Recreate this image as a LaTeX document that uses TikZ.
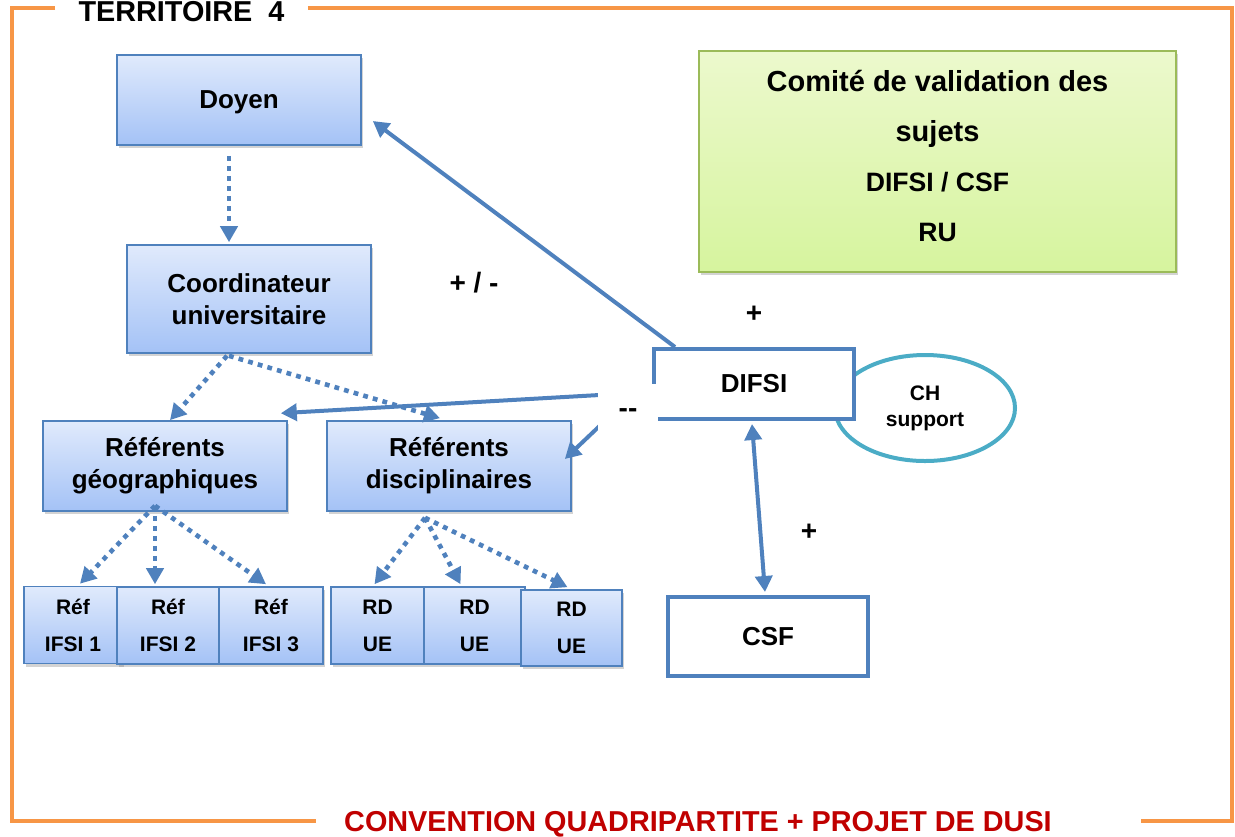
\documentclass[tikz,border=0pt]{standalone}
\usepackage{fontspec}
\setmainfont{Liberation Sans}
\usetikzlibrary{arrows.meta,shadows,shapes.geometric}

\definecolor{boxline}{RGB}{79,129,189}
\definecolor{boxtop}{RGB}{224,234,252}
\definecolor{boxbottom}{RGB}{164,194,246}
\definecolor{greenline}{RGB}{155,187,89}
\definecolor{greentop}{RGB}{236,249,205}
\definecolor{greenbottom}{RGB}{214,244,158}
\definecolor{chline}{RGB}{75,172,198}
\definecolor{frameorange}{RGB}{247,150,70}
\definecolor{convred}{RGB}{192,0,0}

\begin{document}
\begin{tikzpicture}[x=0.5pt, y=-0.5pt,
        every node/.style={align=center, font=\bfseries},
        blocbox/.style={rectangle, draw=boxline, line width=0.8pt, top color=boxtop, bottom color=boxbottom,
            drop shadow={shadow xshift=1.2pt, shadow yshift=-1.5pt, opacity=0.35},
            font=\bfseries\fontsize{13}{16}\selectfont, minimum width=122pt, minimum height=45pt},
        smallbox/.style={blocbox, font=\bfseries\fontsize{10.5}{18.5}\selectfont, minimum width=51pt, minimum height=38.5pt},
        whitebox/.style={rectangle, draw=boxline, line width=2pt, fill=white, font=\bfseries\fontsize{13}{16}\selectfont},
        solidarrow/.style={draw=boxline, line width=2pt, -{Triangle[length=8pt,width=8.5pt]}},
        dotarrow/.style={solidarrow, line width=2.3pt, dash pattern=on 2.4pt off 2.6pt},
        sign/.style={font=\bfseries\fontsize{14}{16}\selectfont},
        frame/.style={draw=frameorange, line width=2pt}
    ]
        \useasboundingbox (0,0) rectangle (1235,836);

        % cadre du territoire
        \node[font=\bfseries\fontsize{14.4}{16}\selectfont, inner xsep=11.5pt] (title) at (181.5,12) {TERRITOIRE~~4};
        \node[font=\bfseries\fontsize{14.4}{16}\selectfont, text=convred] (conv) at (698,824) {CONVENTION QUADRIPARTITE + PROJET DE DUSI};
        \draw[frame] ([yshift=2pt]title.west) -- (12,8) -- (12,821) -- (316,821);
        \draw[frame] ([yshift=2pt]title.east) -- (1232,8) -- (1232,821) -- (1141,821);

        % universite
        \node[blocbox, text depth=0pt] (doyen) at (239,100) {Doyen};
        \node[blocbox, minimum height=54pt] (coord) at (249,299) {Coordinateur\\universitaire};
        \node[blocbox] (geo) at (165,466) {Référents\\géographiques};
        \node[blocbox] (disc) at (449,466) {Référents\\disciplinaires};

        \node[smallbox, minimum width=49pt] (ifsi1) at (73,625) {Réf\\IFSI 1};
        \node[smallbox] (ifsi2) at (168,625.5) {Réf\\IFSI 2};
        \node[smallbox, minimum width=52pt] (ifsi3) at (271,625.5) {Réf\\IFSI 3};

        \node[smallbox, minimum width=46.5pt] (rd1) at (377.5,625.5) {RD\\UE};
        \node[smallbox, minimum width=50.5pt] (rd2) at (474.5,625.5) {RD\\UE};
        \node[smallbox, minimum width=50.5pt, minimum height=38pt] (rd3) at (571.5,628) {RD\\UE};

        % comite
        \node[rectangle, draw=greenline, line width=0.8pt, top color=greentop, bottom color=greenbottom,
            drop shadow={shadow xshift=1.2pt, shadow yshift=-1.5pt, opacity=0.35},
            minimum width=238.5pt, minimum height=110.5pt] (comite) at (937.5,161.5) {};
        \node[font=\bfseries\fontsize{14.5}{25}\selectfont] (comitetext) at (937.5,156)
            {Comité de validation des\\sujets\\{\fontsize{13.3}{25}\selectfont DIFSI / CSF}\\{\fontsize{13.3}{25}\selectfont RU}};

        % DIFSI et CSF
        \node[ellipse, draw=chline, line width=2pt, minimum width=90pt, minimum height=53pt,
            font=\bfseries\fontsize{10.5}{13}\selectfont] (ch) at (925,408) {CH\\support};
        \node[whitebox, minimum width=100pt, minimum height=35pt] (difsi) at (754,384) {DIFSI};
        \node[whitebox, minimum width=100pt, minimum height=39.5pt] (csf) at (768,636.5) {CSF};

        % liens hierarchiques
        \draw[dotarrow] ([xshift=-5pt,yshift=-5pt]doyen.south) -- ([xshift=-10pt,yshift=1pt]coord.north);
        \draw[dotarrow] ([xshift=-11pt,yshift=-1pt]coord.south) -- ([xshift=2.5pt]geo.north);
        \draw[dotarrow] ([xshift=-10pt,yshift=-1pt]coord.south) -- ([xshift=-4.5pt,yshift=1pt]disc.north);

        \draw[dotarrow] ([xshift=-5pt,yshift=3pt]geo.south) -- ([xshift=3.5pt,yshift=1pt]ifsi1.north);
        \draw[dotarrow] ([xshift=-5pt,yshift=3pt]geo.south) -- ([xshift=-6.5pt,yshift=1pt]ifsi2.north);
        \draw[dotarrow] ([xshift=-5pt,yshift=3pt]geo.south) -- ([xshift=-2.5pt,yshift=1pt]ifsi3.north);

        \draw[dotarrow] ([xshift=-12pt,yshift=-3pt]disc.south) -- ([xshift=-1.5pt,yshift=1pt]rd1.north);
        \draw[dotarrow] ([xshift=-12pt,yshift=-3pt]disc.south) -- ([xshift=-7pt,yshift=1pt]rd2.north);
        \draw[dotarrow] ([xshift=-12pt,yshift=-3pt]disc.south) -- ([xshift=-2pt,yshift=1pt]rd3.north);

        % liens DIFSI
        \draw[solidarrow] ([xshift=11.5pt]difsi.north west) -- ([xshift=5.5pt,yshift=-10.5pt]doyen.east);
        \draw[solidarrow] ([yshift=-4pt]difsi.west) -- ([xshift=-3.5pt,yshift=3.5pt]geo.north east);
        \draw[solidarrow] (628,399) -- ([xshift=-3.5pt,yshift=3.5pt]disc.east);
        \draw[solidarrow, {Triangle[length=8pt,width=8.5pt]}-{Triangle[length=8pt,width=8.5pt]}]
            ([xshift=-1pt,yshift=-1.5pt]difsi.south) -- ([xshift=-1.5pt,yshift=1.5pt]csf.north);

        % signes
        \node[sign, fill=white, minimum width=30pt, minimum height=29pt] (minus) at (628,413) {{-}{-}};
        \node[sign] (plusminus) at (474,283) {+ / -};
        \node[sign] (plusup) at (754,314) {+};
        \node[sign] (pluscsf) at (809,532) {+};
    \end{tikzpicture}
\end{document}
